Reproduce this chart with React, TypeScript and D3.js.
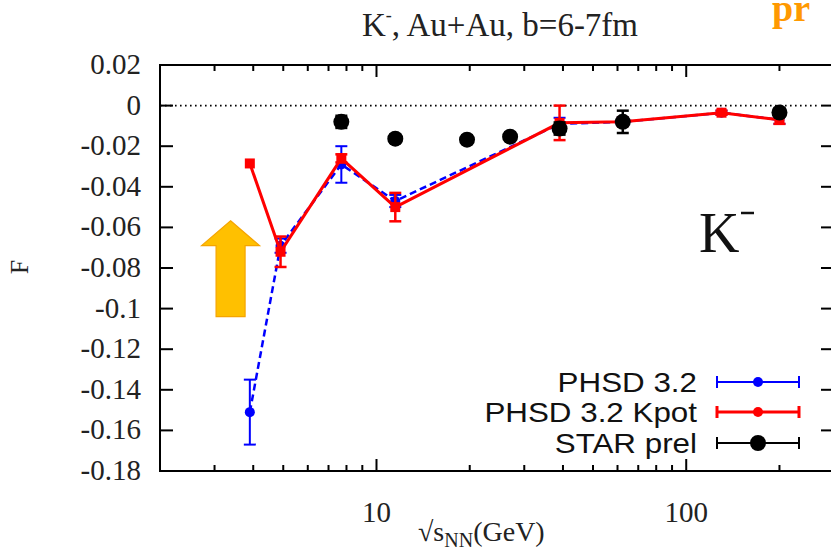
import React from "react";
import * as d3 from "d3";

const energies = [3.9, 4.9, 7.7, 11.5, 39, 62.4, 130, 200];
const phsdF = [-0.151, -0.069, -0.029, -0.047, -0.009, -0.008, -0.0035, -0.007];
const phsdErr = [0.016, 0.0035, 0.009, 0.003, 0.003, 0.002, 0.001, 0.002];
const kpotF = [-0.0285, -0.072, -0.026, -0.05, -0.0085, -0.008, -0.0035, -0.007];
const kpotErr = [0, 0.0075, 0.002, 0.007, 0.0085, 0.002, 0.001, 0.002];
const starEnergies = [7.7, 11.5, 19.6, 27, 39, 62.4, 200];
const starF = [-0.008, -0.0163, -0.0168, -0.0153, -0.0113, -0.008, -0.0034];
const starErr = [0.003, 0.002, 0.002, 0.002, 0.003, 0.0055, 0.002];
const yTicks = [0.02, 0, -0.02, -0.04, -0.06, -0.08, -0.1, -0.12, -0.14, -0.16, -0.18];
const yTickLabels = ["0.02", "0", "-0.02", "-0.04", "-0.06", "-0.08", "-0.1", "-0.12", "-0.14", "-0.16", "-0.18"];
const xMajor = [10, 100];
const xMinor = [3, 4, 5, 6, 7, 8, 9, 20, 30, 40, 50, 60, 70, 80, 90, 200];
const legendLabels = ["PHSD 3.2", "PHSD 3.2 Kpot", "STAR prel"];

const W = 831, H = 555;
const L = 160, R = 834, T = 65, B = 471;
const serif = "'Liberation Serif', 'DejaVu Serif', serif";
const sans = "'Liberation Sans', Arial, sans-serif";

export default function App() {
  const x = d3.scaleLog().domain([2, 300]).range([L, R]);
  const y = d3.scaleLinear().domain([-0.18, 0.02]).range([B, T]);
  const line = d3.line<[number, number]>().x(d => x(d[0])).y(d => y(d[1]));
  const blueData: [number, number][] = energies.map((e, i) => [e, phsdF[i]]);
  const redData: [number, number][] = energies.map((e, i) => [e, kpotF[i]]);

  const errBar = (e: number, v: number, err: number, color: string, w: number, key: string) => {
    if (err <= 0) return null;
    const cx = x(e), y1 = y(v + err), y2 = y(v - err);
    return (
      <g key={key} stroke={color} strokeWidth={w}>
        <line x1={cx} x2={cx} y1={y1} y2={y2} />
        <line x1={cx - 6} x2={cx + 6} y1={y1} y2={y1} />
        <line x1={cx - 6} x2={cx + 6} y1={y2} y2={y2} />
      </g>
    );
  };

  // arrow annotation (data coords)
  const ax = x(3.38);
  const tipY = y(-0.0567), headY = y(-0.069), botY = y(-0.104);
  const arrowPts = [
    [ax, tipY], [ax + 29, headY], [ax + 14.5, headY], [ax + 14.5, botY],
    [ax - 14.5, botY], [ax - 14.5, headY], [ax - 29, headY],
  ].map(p => p.join(",")).join(" ");

  const legY = [382, 412, 443];
  const legColors = ["#0000ff", "#ff0000", "#000000"];

  return (
    <svg width={W} height={H} style={{ position: "absolute", left: 0, top: 0, background: "#fff" }}>
      <rect x={0} y={0} width={W} height={H} fill="#fff" />
      {/* title */}
      <text x={500} y={36} textAnchor="middle" fontFamily={serif} fontSize={33} fill="#222">
        K<tspan fontSize={18} dy={-15}>-</tspan><tspan dy={15}>, Au+Au, b=6-7fm</tspan>
      </text>
      <text x={772} y={21} fontFamily={serif} fontWeight="bold" fontSize={38} fill="#ff9900">pr</text>

      {/* zero dotted line */}
      <line x1={L} x2={R - 14} y1={y(0)} y2={y(0)} stroke="#000" strokeWidth={1.6} strokeDasharray="1.6,3.4" />

      {/* frame & ticks */}
      <rect x={L} y={T} width={R - L} height={B - T} fill="none" stroke="#000" strokeWidth={2} />
      {yTicks.map((t, i) => (
        <g key={"y" + t}>
          <line x1={L} x2={L + 13} y1={y(t)} y2={y(t)} stroke="#000" strokeWidth={2} />
          <line x1={R} x2={R - 13} y1={y(t)} y2={y(t)} stroke="#000" strokeWidth={2} />
          <text x={141} y={y(t) + 9} textAnchor="end" fontFamily={serif} fontSize={29} fill="#222">
            {yTickLabels[i]}
          </text>
        </g>
      ))}
      {xMajor.map(t => (
        <g key={"xm" + t}>
          <line x1={x(t)} x2={x(t)} y1={B} y2={B - 12} stroke="#000" strokeWidth={2} />
          <line x1={x(t)} x2={x(t)} y1={T} y2={T + 12} stroke="#000" strokeWidth={2} />
          <text x={x(t)} y={522} textAnchor="middle" fontFamily={serif} fontSize={29} fill="#222">{t}</text>
        </g>
      ))}
      {xMinor.map(t => (
        <g key={"xn" + t}>
          <line x1={x(t)} x2={x(t)} y1={B} y2={B - 6} stroke="#000" strokeWidth={2} />
          <line x1={x(t)} x2={x(t)} y1={T} y2={T + 6} stroke="#000" strokeWidth={2} />
        </g>
      ))}

      {/* axis labels */}
      <text transform={`translate(28,267) rotate(-90)`} textAnchor="middle" fontFamily={serif} fontSize={26} fill="#222">F</text>
      <text x={418} y={541} fontFamily={serif} fontSize={28} fill="#222">
        √s<tspan fontSize={20} dy={6}>NN</tspan><tspan dy={-6}>(GeV)</tspan>
      </text>

      {/* arrow */}
      <polygon points={arrowPts} fill="#ffc000" stroke="#f5a400" strokeWidth={1.2} />

      {/* big K- label */}
      <text x={699} y={252} fontFamily={serif} fontSize={56} fill="#111">K</text>
      <line x1={741} x2={754} y1={213} y2={213} stroke="#111" strokeWidth={2.5} />

      {/* blue PHSD 3.2 */}
      <path d={line(blueData) || ""} fill="none" stroke="#0000ff" strokeWidth={2.5} strokeDasharray="7,4" />
      {energies.map((e, i) => errBar(e, phsdF[i], phsdErr[i], "#0000ff", 2, "be" + i))}
      {energies.map((e, i) => <circle key={"bc" + i} cx={x(e)} cy={y(phsdF[i])} r={5} fill="#0000ff" />)}

      {/* red PHSD 3.2 Kpot */}
      <path d={line(redData) || ""} fill="none" stroke="#ff0000" strokeWidth={3} />
      {energies.map((e, i) => errBar(e, kpotF[i], kpotErr[i], "#ff0000", 2.5, "re" + i))}
      {energies.map((e, i) => (
        <rect key={"rs" + i} x={x(e) - 5} y={y(kpotF[i]) - 5} width={10} height={10} fill="#ff0000" />
      ))}

      {/* STAR */}
      {starEnergies.map((e, i) => errBar(e, starF[i], starErr[i], "#000", 2.5, "se" + i))}
      {starEnergies.map((e, i) => <circle key={"sc" + i} cx={x(e)} cy={y(starF[i])} r={8} fill="#000" />)}

      {/* legend */}
      {legendLabels.map((lab, i) => (
        <g key={"lg" + i}>
          <text transform={`translate(697,${legY[i] + 10}) scale(1.12,1)`} textAnchor="end" fontFamily={sans} fontSize={28} fill="#111">{lab}</text>
          <g stroke={legColors[i]} strokeWidth={i === 1 ? 3 : 2}>
            <line x1={717} x2={799} y1={legY[i]} y2={legY[i]} />
            <line x1={717} x2={717} y1={legY[i] - 6} y2={legY[i] + 6} />
            <line x1={799} x2={799} y1={legY[i] - 6} y2={legY[i] + 6} />
          </g>
          <circle cx={758} cy={legY[i]} r={i === 2 ? 8 : 5} fill={legColors[i]} />
        </g>
      ))}
    </svg>
  );
}
